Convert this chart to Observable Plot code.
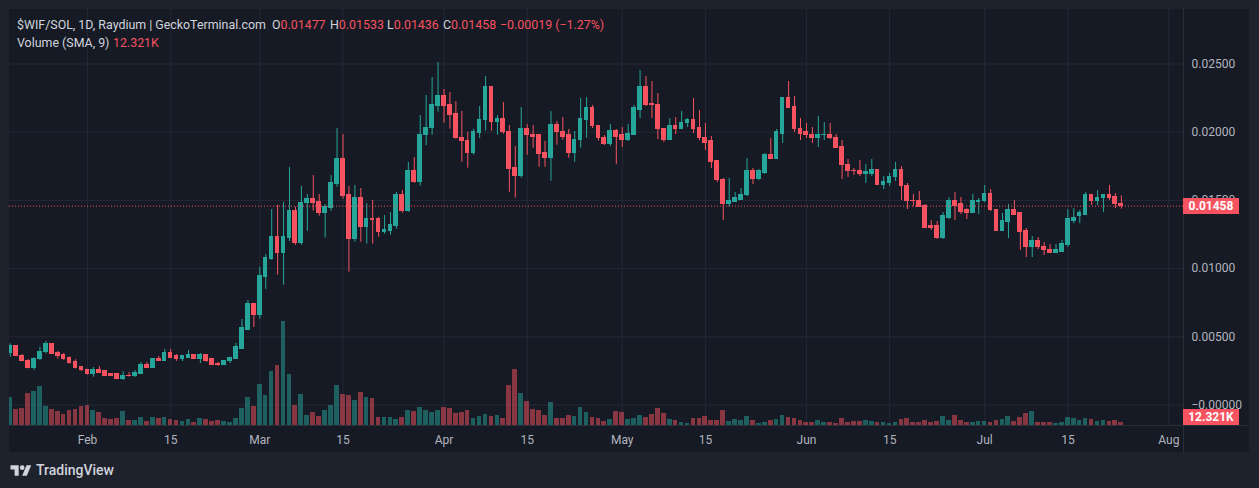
<!DOCTYPE html>
<html>
<head>
<meta charset="utf-8">
<script src="https://cdn.jsdelivr.net/npm/d3@7"></script>
<script src="https://cdn.jsdelivr.net/npm/@observablehq/plot@0.6"></script>
<style>
  html, body { margin: 0; padding: 0; background: #1e222d; }
  #wrap { position: relative; width: 1259px; height: 488px; background: #1e222d; overflow: hidden;
          font-family: Roboto, "Noto Sans", "DejaVu Sans", sans-serif; }
  #pane { position: absolute; left: 9px; top: 9px; width: 1240px; height: 443px; background: #161a25; }
  .layer { position: absolute; left: 0; top: 0; }
  .vline { position: absolute; left: 1183px; top: 9px; width: 1px; height: 443px; background: #2a2e39; }
  .hline { position: absolute; left: 9px; top: 425px; width: 1240px; height: 1px; background: #2a2e39; }
  .lg { position: absolute; font-size: 12.4px; color: #d1d4dc; white-space: pre; line-height: 18px; }
  .lg .v { color: #f7525f; }
  .tag { position: absolute; left: 1183px; width: 56px; height: 16px; background: #f7525f; color: #fff;
         font-size: 12px; font-weight: 700; text-align: center; line-height: 16px; }
  .logo { position: absolute; left: 10px; top: 462px; display: flex; align-items: center; gap: 4px;
          color: #d1d4dc; font-size: 14px; font-weight: 500; }
</style>
</head>
<body>
<div id="wrap">
  <div id="pane"></div>
  <div id="gridLayer" class="layer"></div>
  <div id="volLayer" class="layer"></div>
  <div id="priceLayer" class="layer"></div>
  <div class="vline"></div>
  <div class="hline"></div>
  <div class="logo">
    <svg width="22" height="14" viewBox="0 0 36 24"><path fill="#d1d4dc" d="M14 22H7V11H0V4h14v18z"/><circle fill="#d1d4dc" cx="20" cy="8" r="4"/><path fill="#d1d4dc" d="M28 22h-8l7.5-18h8L28 22z"/></svg>
    <span>TradingView</span>
  </div>
</div>
<script>
// ---------------- data (daily candles, 2024-01-19 .. 2024-07-24) ----------------
const symbolTitle = "$WIF/SOL, 1D, Raydium | GeckoTerminal.com";
const firstDay = "2024-01-19";

const opens = [
  // Jan 19-31
  .0038,.00429,.00362,.00326,.0027,.00334,.00385,.00444,.0038,.00363,.00341,.00312,.00275,
  // Feb
  .0026,.00224,.0026,.00246,.00224,.00224,.00187,.00216,.00209,.00224,.0029,.00268,.00334,.00319,.00378,.00356,.00334,.00348,.00363,.00334,.0037,.00334,.00297,.0029,.00319,.00334,.00414,.00553,.00737,
  // Mar
  .00663,.00942,.01074,.01235,.01111,.01228,.01419,.01186,.01479,.01507,.01485,.01406,.01443,.01619,.018,.01536,.01215,.01514,.01304,.01367,.0136,.01267,.01274,.01311,.01536,.01421,.01712,.01633,.01978,.02029,.0219,
  // Apr
  .02262,.02196,.0213,.01961,.01939,.01846,.01993,.02088,.02328,.02073,.021,.02005,.01736,.01677,.0202,.01983,.01976,.01846,.01809,.02056,.02005,.01976,.01846,.01941,.02093,.02174,.02049,.01961,.0191,.02012,
  // May
  .01976,.01946,.01983,.02166,.02328,.0221,.02203,.02027,.01946,.02049,.02027,.02071,.02093,.02034,.01961,.01932,.01792,.01653,.0147,.01485,.01506,.01536,.01719,.0166,.01704,.01836,.01807,.0199,.02254,.02188,.02027,
  // Jun
  .01998,.01983,.01961,.01976,.01983,.01961,.01895,.01763,.01719,.01719,.01697,.01697,.01726,.01616,.01631,.01668,.01726,.01609,.01499,.01499,.01462,.01309,.01309,.01228,.01374,.01492,.0147,.01426,.01411,.01485,
  // Jul 1-24
  .01492,.0155,.01433,.01279,.01345,.01426,.01404,.01272,.01162,.01199,.01162,.0114,.01118,.01125,.0117,.01352,.01382,.01396,.01536,.01499,.01514,.01536,.01528,.01477
];
const highs = [
  .00449,.00436,.0037,.00334,.00346,.00424,.00466,.00446,.00392,.00378,.00352,.00332,.00282,
  .00262,.00275,.00282,.00253,.00231,.00226,.00246,.00238,.00253,.00312,.00312,.00341,.00356,.00407,.00407,.0037,.00356,.004,.0037,.00378,.0037,.00334,.00312,.00326,.00348,.00451,.00627,.00766,.00744,
  .0101,.01103,.01433,.01464,.01485,.01741,.0145,.01602,.01543,.01682,.01543,.0147,.01682,.02027,.01983,.01602,.01609,.01587,.01477,.01499,.01375,.01389,.01411,.01558,.01573,.01778,.01814,.02122,.02269,.02401,.02511,
  .02313,.02291,.02225,.02152,.02,.02022,.02188,.02408,.02335,.02122,.02218,.02049,.01895,.02181,.02056,.02049,.01983,.01934,.02152,.02078,.02108,.0202,.02005,.02247,.02254,.02196,.02049,.01976,.02056,.0202,
  .02034,.02056,.02196,.02452,.02408,.02372,.02284,.02027,.021,.02108,.02152,.021,.02247,.02159,.02064,.01968,.01792,.0166,.0166,.01558,.01587,.01807,.01734,.01726,.01844,.01953,.0202,.02254,.02372,.02262,.021,
  .02064,.02034,.02115,.02071,.02064,.01983,.01939,.018,.01734,.01792,.01763,.018,.01726,.01675,.01697,.01778,.01748,.01624,.01543,.01565,.0147,.01352,.01345,.01411,.01521,.01558,.01521,.0144,.01543,.01514,
  .01609,.0158,.01433,.01404,.0147,.01499,.01411,.01294,.01235,.01228,.01191,.01177,.01177,.01206,.01433,.0144,.01426,.01558,.01543,.01572,.01543,.01609,.0155,.01533
];
const lows = [
  .0035,.00355,.00317,.00265,.00253,.00326,.00375,.0037,.00336,.00326,.003,.00265,.00246,
  .0022,.00204,.00233,.00209,.00213,.00185,.0018,.00205,.00202,.00224,.00268,.00268,.00319,.00319,.00348,.00319,.00319,.00341,.00334,.00304,.00312,.0029,.00282,.0029,.00304,.00334,.00414,.00553,.00568,
  .00629,.00847,.0106,.00952,.00878,.01198,.01171,.01171,.01274,.01421,.01384,.01223,.01421,.01597,.01509,.00974,.01193,.01193,.01179,.01179,.0123,.01252,.01245,.01289,.01406,.01413,.01624,.01604,.01902,.01978,.02147,
  .02066,.02022,.01949,.0178,.01736,.01831,.01954,.02007,.02007,.01978,.01985,.0156,.01516,.01663,.01831,.01883,.01743,.01743,.01641,.01905,.01941,.01809,.0178,.01883,.01956,.02027,.01934,.01902,.01895,.01763,
  .01888,.01932,.01976,.021,.02188,.021,.01946,.01924,.01946,.01983,.02027,.02034,.0199,.01939,.01866,.01734,.01631,.01352,.01448,.01485,.01499,.01528,.01616,.01646,.0169,.01807,.018,.01917,.02181,.01998,.01939,
  .01954,.01917,.01888,.01939,.01946,.01887,.01653,.01668,.01682,.01675,.01624,.01675,.01609,.0158,.01602,.01638,.01499,.01433,.01455,.01455,.01301,.01279,.01213,.01213,.0136,.01352,.01396,.0136,.01411,.01396,
  .01485,.01418,.01272,.01272,.01221,.01396,.01133,.01081,.01081,.0114,.01096,.01118,.01118,.01118,.01155,.0133,.0133,.01389,.01462,.01462,.01411,.01499,.0144,.01436
];
const closes = [
  .00429,.00358,.00321,.0027,.00339,.00392,.00444,.00372,.00358,.00336,.00306,.0027,.00253,
  .00224,.0026,.00238,.00216,.00216,.00187,.00216,.00209,.00231,.0029,.00268,.00334,.00319,.00378,.00348,.00334,.00356,.00363,.00334,.0037,.00326,.0029,.0029,.00326,.00341,.00422,.00561,.00737,.00663,
  .00949,.01081,.01235,.01111,.01235,.01419,.01186,.01481,.01507,.01479,.01406,.01448,.01624,.018,.01531,.01215,.01514,.01304,.01367,.01355,.01267,.0128,.01316,.01536,.01421,.01712,.01633,.01983,.02034,.02196,.02262,
  .0219,.02125,.01956,.01934,.01846,.01998,.02093,.02328,.02073,.021,.02,.01729,.01677,.0202,.01978,.01968,.01839,.01809,.02056,.02,.01968,.01846,.01946,.021,.02174,.02042,.01954,.0191,.02012,.01968,
  .01946,.0199,.02174,.02328,.02203,.02196,.0202,.01946,.02049,.02027,.02064,.02093,.02027,.01954,.01924,.01785,.01646,.0147,.01492,.01514,.01543,.01719,.0166,.01712,.01836,.01807,.01998,.02254,.02181,.0202,.0199,
  .01976,.01961,.01983,.01983,.01954,.01887,.01756,.01712,.01712,.0169,.01705,.01726,.01616,.01638,.01675,.01726,.01602,.01492,.01492,.01455,.01301,.01301,.01228,.01382,.01492,.01462,.01418,.01411,.01492,.01499,
  .0155,.01426,.01279,.01352,.01426,.01396,.01265,.01162,.01199,.01155,.01133,.01118,.01133,.01177,.0136,.01374,.01404,.01536,.01499,.01521,.01536,.01521,.01477,.01458
];
// volume, thousands
const volumes = [
  67,38,41,77,82,94,46,38,34,26,36,38,46,
  48,36,31,17,14,17,34,12,12,19,10,19,17,19,14,12,10,14,7,17,14,10,12,10,7,17,41,67,46,
  98,72,130,144,250,122,48,74,24,31,22,36,48,96,74,72,60,79,67,65,19,19,19,14,19,36,34,43,36,31,36,
  43,41,29,31,36,17,22,26,22,24,17,96,134,77,58,38,36,24,55,17,17,24,22,43,31,19,17,10,14,34,
  31,14,17,24,19,26,41,29,14,12,7,5,17,17,22,12,12,36,10,14,12,22,12,5,7,12,14,24,19,17,12,
  7,7,12,7,7,5,17,7,10,10,12,10,7,7,5,7,14,17,7,7,12,7,10,22,12,24,12,7,7,10,
  10,7,12,14,22,10,19,29,34,7,7,7,5,7,19,17,12,17,14,10,12,10,12,7
];

const legendLetters = ["O", "H", "L", "C"];
const legendOHLC = ["0.01477", "0.01533", "0.01436", "0.01458"];
const legendChange = "\u22120.00019 (\u22121.27%)";
const volumeLegend = "Volume (SMA, 9)";
const volumeSmaK = 12.321;

const priceTicks = [0, 0.005, 0.01, 0.015, 0.02, 0.025];
const timeTickDates = ["2024-02-01","2024-02-15","2024-03-01","2024-03-15","2024-04-01","2024-04-15",
                       "2024-05-01","2024-05-15","2024-06-01","2024-06-15","2024-07-01","2024-07-15","2024-08-01"];
const timeTickLabels = ["Feb","15","Mar","15","Apr","15","May","15","Jun","15","Jul","15","Aug"];

// ---------------- build ----------------
const UP = "#26a69a", DOWN = "#f7525f";
const start = new Date(firstDay + "T00:00:00Z");
const candles = opens.map((o, i) => ({
  date: d3.utcDay.offset(start, i),
  open: o, high: highs[i], low: lows[i], close: closes[i], volume: volumes[i]
}));
const colorOf = d => d.close >= d.open ? UP : DOWN;
const half = 9.6; // hours half-width of body
const x1 = d => d3.utcHour.offset(d.date, -half);
const x2 = d => d3.utcHour.offset(d.date, half);
const tickDates = timeTickDates.map(s => new Date(s + "T00:00:00Z"));
const labelOf = new Map(tickDates.map((d, i) => [+d, timeTickLabels[i]]));

const base = {
  width: 1259, height: 452,
  marginLeft: 9, marginRight: 76, marginTop: 9, marginBottom: 27,
  style: { background: "transparent", color: "#b2b5be", fontSize: "12px",
           fontFamily: 'Roboto, "Noto Sans", sans-serif', overflow: "visible" },
  x: { type: "utc", domain: [new Date("2024-02-01T00:00:00Z"), new Date("2024-07-01T00:00:00Z")], range: [87, 984.2] }
};
const priceY = { domain: [0, 0.025], range: [404.5, 63.5] };

// grid layer
const gridPlot = Plot.plot({
  ...base,
  x: { ...base.x, axis: null },
  y: { ...priceY, axis: null },
  marks: [
    Plot.gridX(tickDates, { stroke: "#242835", strokeOpacity: 1 }),
    Plot.gridY(priceTicks, { stroke: "#242835", strokeOpacity: 1 })
  ]
});
document.getElementById("gridLayer").append(gridPlot);

// volume layer
const volPlot = Plot.plot({
  ...base,
  x: { ...base.x, axis: null },
  y: { domain: [0, 250], range: [425, 321], axis: null },
  marks: [
    Plot.rect(candles, { x1, x2, y1: () => 0, y2: "volume", fill: colorOf, fillOpacity: 0.5,
                         clip: true, shapeRendering: "crispEdges" })
  ]
});
document.getElementById("volLayer").append(volPlot);

// price layer
const last = candles[candles.length - 1];
const pricePlot = Plot.plot({
  ...base,
  y: { ...priceY },
  marks: [
    Plot.ruleX(candles, { x: "date", y1: "low", y2: "high", stroke: colorOf, strokeWidth: 1, clip: true }),
    Plot.rect(candles, { x1, x2, y1: "open", y2: "close", fill: colorOf, insetTop: -0.5, insetBottom: -0.5,
                         clip: true, shapeRendering: "crispEdges" }),
    Plot.ruleY([last.close], { stroke: DOWN, strokeWidth: 1, strokeDasharray: "1,2" }),
    Plot.axisY(priceTicks, { anchor: "right", tickSize: 0, tickPadding: 8, label: null,
                             tickFormat: d => d === 0 ? "\u22120.00000" : d.toFixed(5) }),
    Plot.axisX(tickDates, { anchor: "bottom", tickSize: 0, tickPadding: 10, label: null,
                            tickFormat: d => labelOf.get(+d) })
  ]
});
document.getElementById("priceLayer").append(pricePlot);

// price & volume tags positioned by the scales
const wrap = document.getElementById("wrap");
function addTag(text, top) {
  const t = document.createElement("div");
  t.className = "tag"; t.style.top = top + "px"; t.textContent = text;
  wrap.append(t);
}
const yPrice = pricePlot.scale("y").apply(last.close);
addTag(last.close.toFixed(5), yPrice - 8);
const yVol = volPlot.scale("y").apply(volumeSmaK);
addTag(volumeSmaK.toFixed(3) + "K", Math.min(yVol - 8, 425 - 16));

// legend (pieces placed where the reference shows them)
function addText(html, left, top) {
  const s = document.createElement("div");
  s.className = "lg"; s.style.left = left + "px"; s.style.top = top + "px"; s.innerHTML = html;
  wrap.append(s);
}
addText(symbolTitle, 17, 16);
const letterX = [272, 330, 387, 443];
legendLetters.forEach((n, i) => addText(`${n}<span class="v">${legendOHLC[i]}</span>`, letterX[i], 16));
addText(`<span class="v">${legendChange}</span>`, 500, 16);
addText(volumeLegend, 17, 34);
addText(`<span class="v">${volumeSmaK.toFixed(3)}K</span>`, 113, 34);
</script>
</body>
</html>
